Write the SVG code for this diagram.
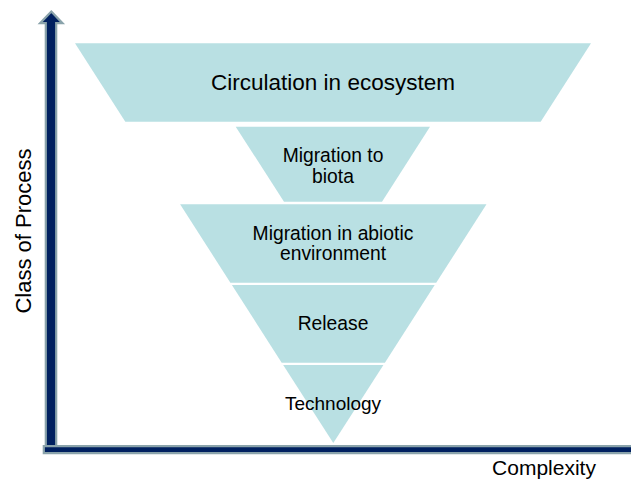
<svg xmlns="http://www.w3.org/2000/svg" width="631" height="480" viewBox="0 0 631 480">
<style>
.seg{fill:#B9E0E3;stroke:none}
.lbl{font-family:"Liberation Sans",Arial,sans-serif;fill:#000;text-anchor:middle}
.axis{fill:#002060;stroke:#8AA3AB;stroke-width:2.2;stroke-linejoin:miter}
</style>
<rect width="631" height="480" fill="#fff"/>
<g id="axes">
<path class="axis" d="M51.3,11.5 L62.5,23.2 L56.2,23.2 L56.2,447 L45.8,447 L45.8,23.2 L40.1,23.2 Z"/>
<path class="axis" d="M43.8,446.1 L633,446.1 L633,453.2 L43.8,453.2 Z"/>
</g>
<g id="circulation">
<polygon class="seg" points="75,43.3 591,43.3 540.7,121.7 125.3,121.7"/>
<text class="lbl" x="333" y="90" font-size="22.5">Circulation in ecosystem</text>
</g>
<g id="migration-biota">
<polygon class="seg" points="235.7,126.7 430,126.7 382,201.7 284,201.7"/>
<text class="lbl" x="333" y="161.7" font-size="19.3">Migration to</text>
<text class="lbl" x="333" y="182.7" font-size="19.3">biota</text>
</g>
<g id="migration-abiotic">
<polygon class="seg" points="180.1,204.3 486.5,204.3 436.2,282.7 230.4,282.7"/>
<text class="lbl" x="333" y="240" font-size="19.3">Migration in abiotic</text>
<text class="lbl" x="333" y="260" font-size="19.3">environment</text>
</g>
<g id="release">
<polygon class="seg" points="231.9,285 434.7,285 384.9,362.7 281.7,362.7"/>
<text class="lbl" x="333" y="330" font-size="19.3">Release</text>
</g>
<g id="technology">
<polygon class="seg" points="283.2,365 383.4,365 333.3,443"/>
<text class="lbl" x="333" y="410" font-size="19">Technology</text>
</g>
<g id="y-label">
<text class="lbl" transform="translate(31,231) rotate(-90)" x="0" y="0" font-size="22">Class of Process</text>
</g>
<g id="x-label">
<text class="lbl" x="544" y="475" font-size="21">Complexity</text>
</g>
<g id="connectors"></g>
</svg>
